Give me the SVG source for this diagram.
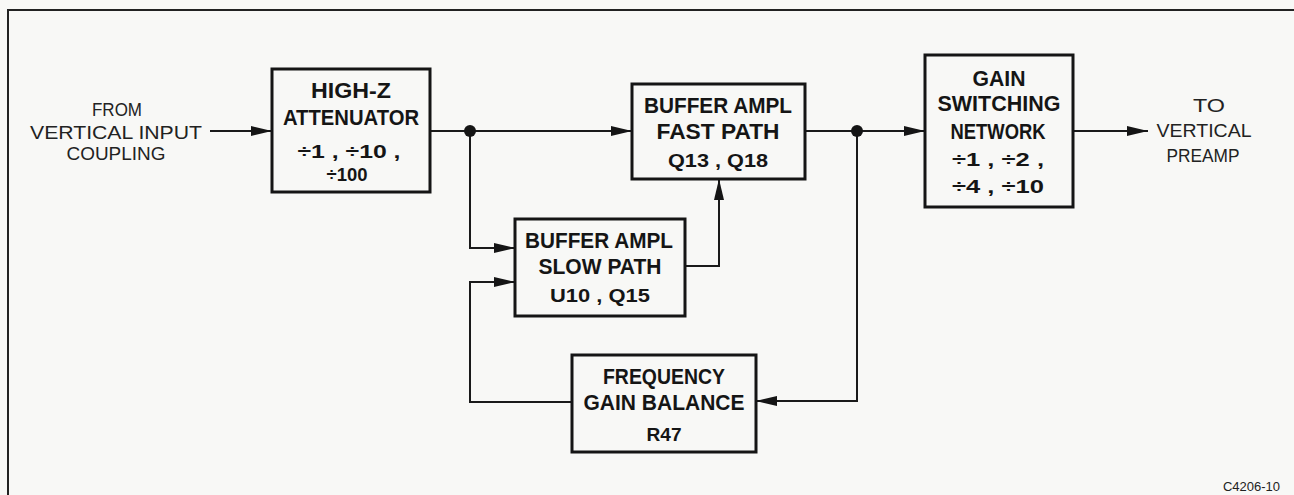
<svg xmlns="http://www.w3.org/2000/svg" width="1294" height="495" viewBox="0 0 1294 495">
<style>
.bg{fill:#f8f8f6}
.frame{fill:none;stroke:#222;stroke-width:2}
.box{fill:none;stroke:#151515;stroke-width:3}
.wire{fill:none;stroke:#1a1a1a;stroke-width:2}
.dot{fill:#151515}
.bt{font-family:"Liberation Sans",Arial,sans-serif;font-weight:bold;font-size:22px;fill:#151515;text-anchor:middle}
.nt{font-family:"Liberation Sans",Arial,sans-serif;font-weight:bold;font-size:19px;fill:#151515;text-anchor:middle}
.lt{font-family:"Liberation Sans",Arial,sans-serif;font-size:19px;fill:#222;text-anchor:middle}
.id{font-family:"Liberation Sans",Arial,sans-serif;font-size:13px;fill:#222;text-anchor:end}
</style>
<defs>
<marker id="arr" markerUnits="userSpaceOnUse" markerWidth="22" markerHeight="12" refX="21" refY="6" orient="auto">
<path d="M0,1 L21,6 L0,11 Z" fill="#151515"/>
</marker>
</defs>
<rect class="bg" x="0" y="0" width="1294" height="495"/>
<path class="frame" d="M8,500 L8,10 L1300,10"/>

<g id="connectors">
<path class="wire" d="M210,131 L272,131" marker-end="url(#arr)"/>
<path class="wire" d="M430,131 L632,131" marker-end="url(#arr)"/>
<path class="wire" d="M470,131 L470,248 L515,248" marker-end="url(#arr)"/>
<path class="wire" d="M685,266 L719,266 L719,179" marker-end="url(#arr)"/>
<path class="wire" d="M805,131 L925,131" marker-end="url(#arr)"/>
<path class="wire" d="M857,131 L857,401 L756,401" marker-end="url(#arr)"/>
<path class="wire" d="M572,402 L470,402 L470,282 L515,282" marker-end="url(#arr)"/>
<path class="wire" d="M1073,131 L1148,131" marker-end="url(#arr)"/>
<circle class="dot" cx="470" cy="131" r="6"/>
<circle class="dot" cx="857" cy="131" r="6"/>
</g>

<g id="input-label">
<text class="lt" x="117" y="116" textLength="50" lengthAdjust="spacingAndGlyphs">FROM</text>
<text class="lt" x="116" y="139" textLength="172" lengthAdjust="spacingAndGlyphs">VERTICAL INPUT</text>
<text class="lt" x="116" y="160" textLength="99" lengthAdjust="spacingAndGlyphs">COUPLING</text>
</g>

<g id="attenuator">
<rect class="box" x="272" y="69" width="158" height="123"/>
<text class="bt" x="351" y="98" textLength="80" lengthAdjust="spacingAndGlyphs">HIGH-Z</text>
<text class="bt" x="351" y="125" textLength="136" lengthAdjust="spacingAndGlyphs">ATTENUATOR</text>
<text class="nt" x="349" y="158" textLength="103" lengthAdjust="spacingAndGlyphs">÷1 , ÷10 ,</text>
<text class="nt" x="347" y="181" textLength="41" lengthAdjust="spacingAndGlyphs">÷100</text>
</g>

<g id="fast-path">
<rect class="box" x="632" y="84" width="173" height="95"/>
<text class="bt" x="718" y="113" textLength="148" lengthAdjust="spacingAndGlyphs">BUFFER AMPL</text>
<text class="bt" x="718" y="139" textLength="123" lengthAdjust="spacingAndGlyphs">FAST PATH</text>
<text class="nt" x="718" y="167" textLength="100" lengthAdjust="spacingAndGlyphs">Q13 , Q18</text>
</g>

<g id="slow-path">
<rect class="box" x="515" y="219" width="170" height="97"/>
<text class="bt" x="599" y="248" textLength="148" lengthAdjust="spacingAndGlyphs">BUFFER AMPL</text>
<text class="bt" x="600" y="274" textLength="123" lengthAdjust="spacingAndGlyphs">SLOW PATH</text>
<text class="nt" x="600" y="302" textLength="100" lengthAdjust="spacingAndGlyphs">U10 , Q15</text>
</g>

<g id="freq-balance">
<rect class="box" x="572" y="355" width="184" height="97"/>
<text class="bt" x="664" y="384" textLength="122" lengthAdjust="spacingAndGlyphs">FREQUENCY</text>
<text class="bt" x="664" y="410" textLength="161" lengthAdjust="spacingAndGlyphs">GAIN BALANCE</text>
<text class="nt" x="664" y="441" textLength="35" lengthAdjust="spacingAndGlyphs">R47</text>
</g>

<g id="gain-switching">
<rect class="box" x="925" y="55" width="148" height="152"/>
<text class="bt" x="999" y="86" textLength="53" lengthAdjust="spacingAndGlyphs">GAIN</text>
<text class="bt" x="999" y="111" textLength="123" lengthAdjust="spacingAndGlyphs">SWITCHING</text>
<text class="bt" x="998" y="139" textLength="95" lengthAdjust="spacingAndGlyphs">NETWORK</text>
<text class="nt" x="998" y="166" textLength="92" lengthAdjust="spacingAndGlyphs">÷1 , ÷2 ,</text>
<text class="nt" x="998" y="193" textLength="92" lengthAdjust="spacingAndGlyphs">÷4 , ÷10</text>
</g>

<g id="output-label">
<text class="lt" x="1209" y="112" textLength="32" lengthAdjust="spacingAndGlyphs">TO</text>
<text class="lt" x="1204" y="137" textLength="95" lengthAdjust="spacingAndGlyphs">VERTICAL</text>
<text class="lt" x="1203" y="162" textLength="73" lengthAdjust="spacingAndGlyphs">PREAMP</text>
</g>

<text class="id" x="1280" y="491">C4206-10</text>
</svg>
